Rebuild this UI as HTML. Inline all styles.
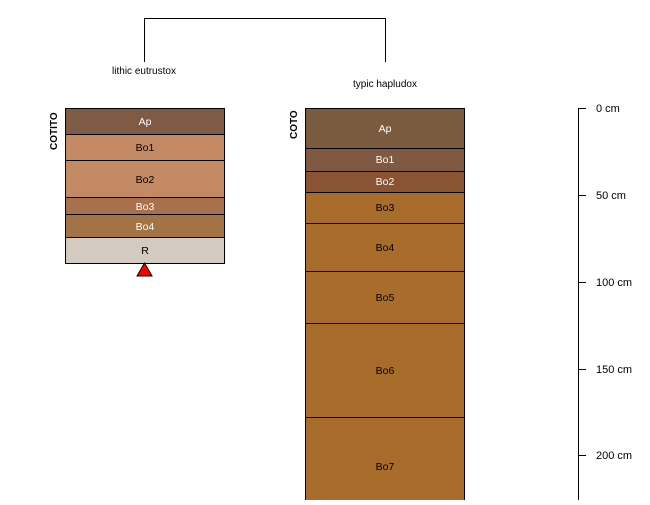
<!DOCTYPE html>
<html><head><meta charset="utf-8"><style>
body{margin:0;background:#fff;width:650px;height:500px;overflow:hidden}
</style></head><body>
<svg width="650" height="500" xmlns="http://www.w3.org/2000/svg" font-family="Liberation Sans, DejaVu Sans, sans-serif" font-size="10.5">
<polyline points="144.5,62 144.5,18.5 385.5,18.5 385.5,62" fill="none" stroke="#000" stroke-width="1"/>
<text x="144" y="74" text-anchor="middle" font-size="10">lithic eutrustox</text>
<text x="385" y="87" text-anchor="middle" font-size="10">typic hapludox</text>
<g stroke="#000" stroke-width="1">
<rect x="65.5" y="108.5" width="159" height="26" fill="#7f5a44"/>
<rect x="65.5" y="134.5" width="159" height="26" fill="#c38a63"/>
<rect x="65.5" y="160.5" width="159" height="37" fill="#c38a63"/>
<rect x="65.5" y="197.5" width="159" height="17" fill="#a9704d"/>
<rect x="65.5" y="214.5" width="159" height="23" fill="#a47345"/>
<rect x="65.5" y="237.5" width="159" height="26" fill="#d3cbbf"/>
<polygon points="144.5,263 152,276 137,276" fill="#f00"/>
<rect x="305.5" y="108.5" width="159" height="40" fill="#7b5b3f"/>
<rect x="305.5" y="148.5" width="159" height="23" fill="#7f5942"/>
<rect x="305.5" y="171.5" width="159" height="21" fill="#8a5433"/>
<rect x="305.5" y="192.5" width="159" height="31" fill="#a86d2b"/>
<rect x="305.5" y="223.5" width="159" height="48" fill="#a86d2b"/>
<rect x="305.5" y="271.5" width="159" height="52" fill="#a86d2b"/>
<rect x="305.5" y="323.5" width="159" height="94" fill="#a86d2b"/>
<rect x="305.5" y="417.5" width="159" height="100" fill="#a86d2b"/>
</g>
<g text-anchor="middle">
<text x="145" y="125" fill="#fff">Ap</text>
<text x="145" y="151">Bo1</text>
<text x="145" y="183">Bo2</text>
<text x="145" y="210" fill="#fff">Bo3</text>
<text x="145" y="230" fill="#fff">Bo4</text>
<text x="145" y="254">R</text>
<text x="385" y="132" fill="#fff">Ap</text>
<text x="385" y="163" fill="#fff">Bo1</text>
<text x="385" y="185" fill="#fff">Bo2</text>
<text x="385" y="211">Bo3</text>
<text x="385" y="251">Bo4</text>
<text x="385" y="301">Bo5</text>
<text x="385" y="374">Bo6</text>
<text x="385" y="470">Bo7</text>
</g>
<text transform="translate(57,150) rotate(-90)" font-size="10" font-weight="bold">COTITO</text>
<text transform="translate(297,139) rotate(-90)" font-size="10" font-weight="bold">COTO</text>
<g stroke="#000" stroke-width="1">
<line x1="578.5" y1="108" x2="578.5" y2="500"/>
<line x1="578" y1="108.5" x2="586" y2="108.5"/>
<line x1="578" y1="195.5" x2="586" y2="195.5"/>
<line x1="578" y1="282.5" x2="586" y2="282.5"/>
<line x1="578" y1="369.5" x2="586" y2="369.5"/>
<line x1="578" y1="455.5" x2="586" y2="455.5"/>
</g>
<g font-size="11">
<text x="596" y="112">0 cm</text>
<text x="596" y="199">50 cm</text>
<text x="596" y="286">100 cm</text>
<text x="596" y="373">150 cm</text>
<text x="596" y="459">200 cm</text>
</g>
</svg>
</body></html>
